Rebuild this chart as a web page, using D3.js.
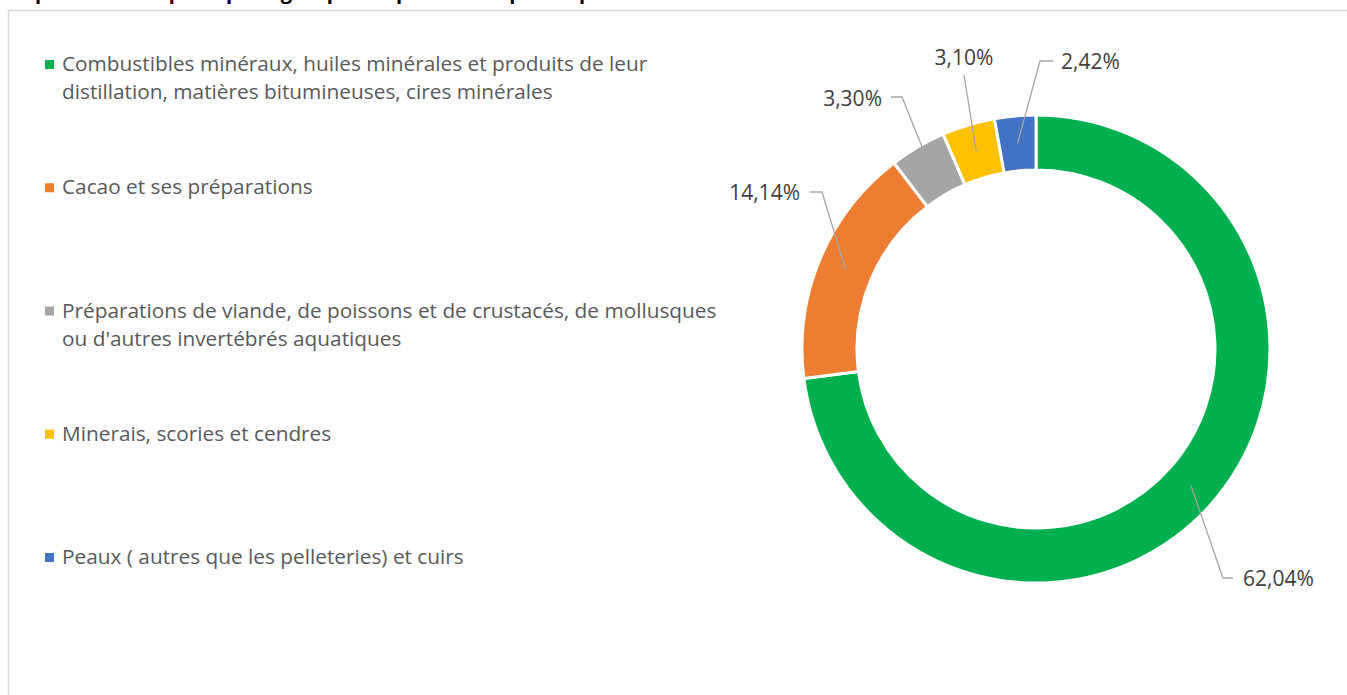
<!DOCTYPE html>
<html lang="fr">
<head>
    <meta charset="UTF-8">
    <title>Répartition des exportations par groupe de produits</title>
    <script src="https://d3js.org/d3.v7.min.js"></script>
    <style>
        body {
            margin: 0;
            padding: 0;
            background-color: #fff;
            overflow: hidden;
        }
        svg {
            display: block;
            font-family: "Open Sans", Arial, sans-serif;
        }
    </style>
</head>
<body>
    <svg id="chart" width="1347" height="695"></svg>
    <script>
        // data
        const categories = [
            ["Combustibles minéraux, huiles minérales et produits de leur", "distillation, matières bitumineuses, cires minérales"],
            ["Cacao et ses préparations"],
            ["Préparations de viande, de poissons et de crustacés, de mollusques", "ou d'autres invertébrés aquatiques"],
            ["Minerais, scories et cendres"],
            ["Peaux ( autres que les pelleteries) et cuirs"]
        ];
        const shares = [62.04, 14.14, 3.30, 3.10, 2.42];
        const colors = ["#00B050", "#ED7D31", "#A5A5A5", "#FFC000", "#4472C4"];
        const title = "Répartition des principaux groupes de produits exportés par la Côte d'Ivoire";

        // label layout, relative to the donut centre: elbow point, text anchor point
        const labelLayout = [
            { elbow: [187, 229], text: [207, 230], anchor: "start", hook: 10 },
            { elbow: [-214, -157], text: [-236, -156], anchor: "end", hook: -12 },
            { elbow: [-134, -252], text: [-154, -250], anchor: "end", hook: -11 },
            { elbow: [-72, -274], text: [-72, -291], anchor: "middle", hook: 0 },
            { elbow: [4, -288], text: [25, -287], anchor: "start", hook: 13 }
        ];

        const svg = d3.select("#chart");
        const W = 1347, H = 695;

        // title, mostly cut off above the frame as in the source
        svg.append("text")
            .attr("x", 10)
            .attr("y", -1)
            .attr("font-weight", "bold")
            .attr("font-size", 20)
            .attr("fill", "#000")
            .text(title);

        // frame
        svg.append("path")
            .attr("d", `M8.5,${H + 5} V10.5 H${W + 5}`)
            .attr("fill", "none")
            .attr("stroke", "#d9d9d9")
            .attr("stroke-width", 1.5);

        // legend
        const legendY = d3.scaleLinear().domain([0, 4]).range([64, 557]);
        const legend = svg.append("g").selectAll("g")
            .data(categories)
            .join("g")
            .attr("transform", (d, i) => `translate(0,${legendY(i)})`);

        legend.append("rect")
            .attr("x", 45)
            .attr("y", -4)
            .attr("width", 9)
            .attr("height", 9)
            .attr("fill", (d, i) => colors[i]);

        legend.append("text")
            .attr("x", 62)
            .attr("fill", "#595959")
            .attr("font-size", 20.8)
            .selectAll("tspan")
            .data(d => d)
            .join("tspan")
            .attr("x", 62)
            .attr("y", (d, j) => 7 + j * 28)
            .text(d => d);

        // donut
        const cx = 1036, cy = 349;
        const outerR = 234, innerR = 179;
        const g = svg.append("g").attr("transform", `translate(${cx},${cy})`);

        const pie = d3.pie().sort(null).value(d => d);
        const arcs = pie(shares);
        const arc = d3.arc().innerRadius(innerR).outerRadius(outerR);

        g.selectAll("path.slice")
            .data(arcs)
            .join("path")
            .attr("class", "slice")
            .attr("d", arc)
            .attr("fill", (d, i) => colors[i])
            .attr("stroke", "#fff")
            .attr("stroke-width", 3);

        const fmt = v => d3.format(".2f")(v).replace(".", ",") + "%";

        // leader lines
        g.selectAll("polyline")
            .data(arcs)
            .join("polyline")
            .attr("points", (d, i) => {
                const c = arc.centroid(d);
                const L = labelLayout[i];
                const pts = [c, L.elbow];
                if (L.hook !== 0) pts.push([L.elbow[0] + L.hook, L.elbow[1]]);
                return pts.map(p => p.join(",")).join(" ");
            })
            .attr("fill", "none")
            .attr("stroke", "#a6a6a6")
            .attr("stroke-width", 1.3);

        g.selectAll("text.label")
            .data(arcs)
            .join("text")
            .attr("class", "label")
            .attr("x", (d, i) => labelLayout[i].text[0])
            .attr("y", (d, i) => labelLayout[i].text[1])
            .attr("dy", "0.35em")
            .attr("text-anchor", (d, i) => labelLayout[i].anchor)
            .attr("fill", "#404040")
            .attr("font-size", 21)
            .text(d => fmt(d.data));
    </script>
</body>
</html>
